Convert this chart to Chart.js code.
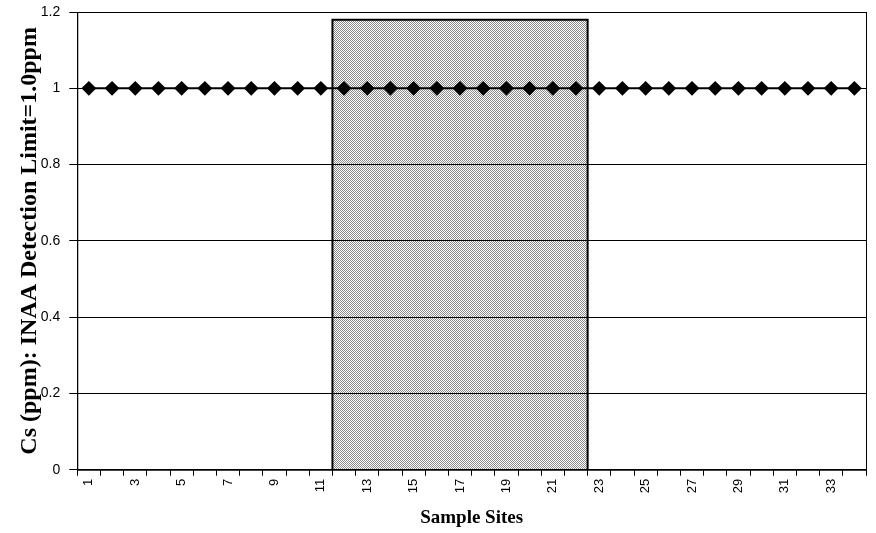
<!DOCTYPE html>
<html>
<head>
<meta charset="utf-8">
<script src="https://cdn.jsdelivr.net/npm/chart.js@4.4.1/dist/chart.umd.min.js"></script>
<style>
  html, body { margin: 0; padding: 0; background: #fff; }
  #wrap { width: 876px; height: 533px; }
</style>
</head>
<body>
<div id="wrap"><canvas id="chart" width="876" height="533"></canvas></div>
<script>
// sample sites 1..34
const sites = ['1','2','3','4','5','6','7','8','9','10','11','12','13','14','15','16','17',
  '18','19','20','21','22','23','24','25','26','27','28','29','30','31','32','33','34'];

// Cs (ppm) - all at the 1.0 ppm detection limit
const csValues = [1,1,1,1,1,1,1,1,1,1,1,1,1,1,1,1,1,1,1,1,1,1,1,1,1,1,1,1,1,1,1,1,1,1];

// shaded block covering sites 12-22 (outline, in site units)
const shadeX = [11.5, 11.5, 22.5, 22.5];
const shadeY = [0, 1.18, 1.18, 0];

const yTicks = [0, 0.2, 0.4, 0.6, 0.8, 1, 1.2];

// stipple pattern for the shaded block
function makeStipple() {
  const c = document.createElement('canvas');
  c.width = 2; c.height = 2;
  const g = c.getContext('2d');
  g.fillStyle = 'rgba(0,0,0,0.45)';
  g.fillRect(0, 0, 1, 1);
  g.fillRect(1, 1, 1, 1);
  return g.createPattern(c, 'repeat');
}

// frame around plot area
const frame = {
  id: 'frame',
  afterDraw(chart) {
    const { ctx, chartArea: a } = chart;
    ctx.save();
    ctx.strokeStyle = '#000';
    ctx.lineWidth = 1;
    ctx.strokeRect(a.left + 0.5, a.top + 0.5, a.right - a.left, a.bottom - a.top);
    ctx.restore();
  }
};

const ctx = document.getElementById('chart').getContext('2d');
new Chart(ctx, {
  data: {
    labels: sites,
    datasets: [
      {
        type: 'line',
        label: 'Cs',
        data: csValues,
        borderColor: '#000',
        borderWidth: 2,
        pointStyle: 'rectRot',
        pointRadius: 6,
        pointBackgroundColor: '#000',
        pointBorderColor: '#000',
        order: 0
      },
      {
        type: 'line',
        label: 'shade',
        xAxisID: 'xs',
        data: shadeX.map((x, i) => ({ x: x, y: shadeY[i] })),
        backgroundColor: makeStipple(),
        borderColor: '#000',
        borderWidth: 2,
        pointRadius: 0,
        fill: 'origin',
        tension: 0,
        order: 1
      }
    ]
  },
  options: {
    responsive: false,
    animation: false,
    layout: { padding: { top: 12, right: 10, left: 0, bottom: 0 } },
    plugins: {
      legend: { display: false },
      tooltip: { enabled: false }
    },
    scales: {
      x: {
        offset: true,
        grid: {
          offset: true,
          drawOnChartArea: false,
          drawTicks: true,
          tickLength: 6,
          color: '#000'
        },
        border: { display: true, color: '#000', width: 1 },
        ticks: {
          autoSkip: false,
          minRotation: 90,
          maxRotation: 90,
          padding: 3,
          color: '#000',
          font: { family: 'Liberation Sans, Arial, sans-serif', size: 13 },
          callback: (v, i) => (i % 2 === 0 ? sites[i] : '')
        },
        title: {
          display: true,
          text: 'Sample Sites',
          color: '#000',
          font: { family: 'Liberation Serif, Times New Roman, serif', size: 19, weight: 'bold' },
          padding: { top: 10, bottom: 4 }
        }
      },
      xs: {
        type: 'linear',
        display: false,
        min: 0.5,
        max: sites.length + 0.5
      },
      y: {
        min: 0,
        max: 1.2,
        afterBuildTicks: (s) => { s.ticks = yTicks.map(v => ({ value: v })); },
        afterFit: (s) => { s.paddingTop = 0; s.paddingBottom = 0; },
        grid: {
          color: '#000',
          lineWidth: 1,
          drawTicks: true,
          tickLength: 8
        },
        border: { display: true, color: '#000', width: 1 },
        ticks: {
          padding: 9,
          color: '#000',
          font: { family: 'Liberation Sans, Arial, sans-serif', size: 14 },
          callback: (v) => String(Number(v.toFixed(1)))
        },
        title: {
          display: true,
          text: 'Cs (ppm): INAA Detection Limit=1.0ppm',
          color: '#000',
          font: { family: 'Liberation Serif, Times New Roman, serif', size: 24, weight: 'bold' },
          padding: { top: 15, bottom: -12 }
        }
      }
    }
  },
  plugins: [frame]
});
</script>
</body>
</html>
